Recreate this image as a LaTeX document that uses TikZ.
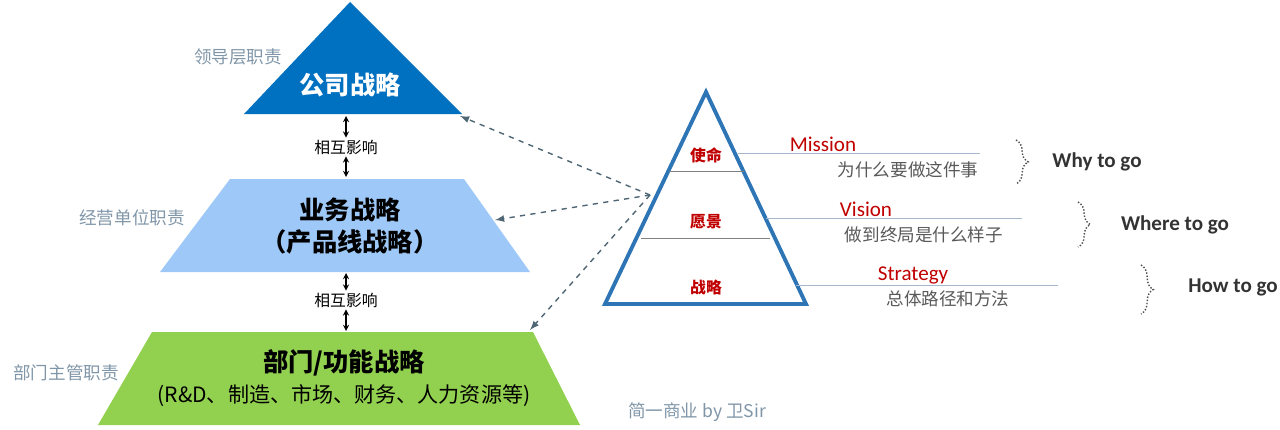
\documentclass[tikz,border=0pt]{standalone}
\usepackage{fontspec}
\setmainfont{Carlito}
\newfontfamily\cjk{Noto Sans CJK SC}
\usetikzlibrary{positioning,decorations.pathreplacing,calc}
\definecolor{topblue}{HTML}{0070C0}
\definecolor{midblue}{HTML}{9DC8F7}
\definecolor{lowgreen}{HTML}{92D050}
\definecolor{sidegray}{HTML}{8096A8}
\definecolor{dashgray}{HTML}{4F6675}
\definecolor{triblue}{HTML}{2E75B6}
\definecolor{darkred}{HTML}{C00000}
\definecolor{linegray}{HTML}{A6B8CC}
\begin{document}
\begin{tikzpicture}[x=0.02cm, y=-0.02cm,
        side/.style={font=\cjk\normalsize, text=sidegray},
        inner/.style={font=\cjk\small, text=black},
        levelname/.style={font=\cjk\bfseries\itshape\small, text=darkred},
        eng/.style={font=\large, text=darkred},
        note/.style={font=\cjk\normalsize, text=black!65},
        goal/.style={font=\bfseries\large, text=black!80},
        mutual/.style={<->, >=stealth, semithick},
        link/.style={->, >=latex, dashed, thick, draw=dashgray},
        bracebox/.style={decorate, decoration={brace, amplitude=7pt}, densely dotted, thick, black!70}
      ]
        \useasboundingbox (0,0) rectangle (1280,429);

        % Left pyramid
        \fill[topblue] (350,2) -- (462,114) -- (244,114) -- cycle;
        \fill[midblue] (230,179) -- (464,179) -- (530,272) -- (160,272) -- cycle;
        \fill[lowgreen] (152,332) -- (533,332) -- (580,425) -- (98,425) -- cycle;
        \coordinate (corp) at (460,116);
        \coordinate (corpbase) at (346,116);
        \coordinate (busitop) at (346,177);
        \coordinate (busi) at (495,220);
        \coordinate (busibase) at (346,273);
        \coordinate (functop) at (346,331);
        \coordinate (func) at (530,330);

        \node[font=\cjk\bfseries\Large, text=white] (corptext) at (350,85) {公司战略};
        \node[font=\cjk\bfseries\Large, align=center] (busitext) at (350,226) {业务战略\\（产品线战略）};
        \node[font=\cjk\Large, align=center] (functext) at (344,378) {\bfseries 部门/功能战略\\{\large (R\&D、制造、市场、财务、人力资源等)}};

        \node[side] (lead) at (238,57) {领导层职责};
        \node[side] (unit) at (132,218) {经营单位职责};
        \node[side] (dept) at (66,373) {部门主管职责};

        % Mutual influence
        \node[inner, fill=white, inner sep=1pt] (mut1) at (346,147) {相互影响};
        \node[inner, fill=white, inner sep=1pt] (mut2) at (346,300) {相互影响};
        \draw[mutual] (mut1) -- (corpbase);
        \draw[mutual] (mut1) -- (busitop);
        \draw[mutual] (mut2) -- (busibase);
        \draw[mutual] (mut2) -- (functop);

        % Right triangle
        \coordinate (src) at (650,195);
        \draw[triblue, line width=2.2pt, line join=miter] (706,92) -- (806,304) -- (605,304) -- cycle;
        \draw[black!50] (669,171) -- (744,171);
        \draw[black!50] (641,238) -- (770,238);
        \draw[link] (src) -- (corp);
        \draw[link] (src) -- (busi);
        \draw[link] (src) -- (func);

        \node[levelname] (mission) at (706,155) {使命};
        \node[levelname] (vision) at (706,222) {愿景};
        \node[levelname] (strat) at (706,287) {战略};

        \coordinate (mend) at (980,153);
        \coordinate (vend) at (1022,218);
        \coordinate (send) at (1058,285);
        \draw[linegray] (738,153) -- (mend);
        \draw[linegray] (766,218) -- (vend);
        \draw[linegray] (796,285) -- (send);

        \node[eng] (missionen) at (823,144) {Mission};
        \node[eng] (visionen) at (866,209) {Vision};
        \node[eng] (straten) at (913,275) {Strategy};
        \node[note] (why) at (908,170) {为什么要做这件事};
        \node[note] (where) at (924,235) {做到终局是什么样子};
        \node[note] (how) at (948,299) {总体路径和方法};

        % Braces
        \draw[bracebox] (1016,140) -- (1016,184);
        \draw[bracebox] (1078,202) -- (1078,247);
        \draw[bracebox] (1141,265) -- (1141,314);
        \node[goal] (whygo) at (1097,162) {Why to go};
        \node[goal] (wherego) at (1175,225) {Where to go};
        \node[goal] (howgo) at (1233,287) {How to go};

        \node[font=\cjk\normalsize, text=sidegray] (sign) at (697,412) {简一商业 by 卫Sir};
      \end{tikzpicture}
\end{document}
